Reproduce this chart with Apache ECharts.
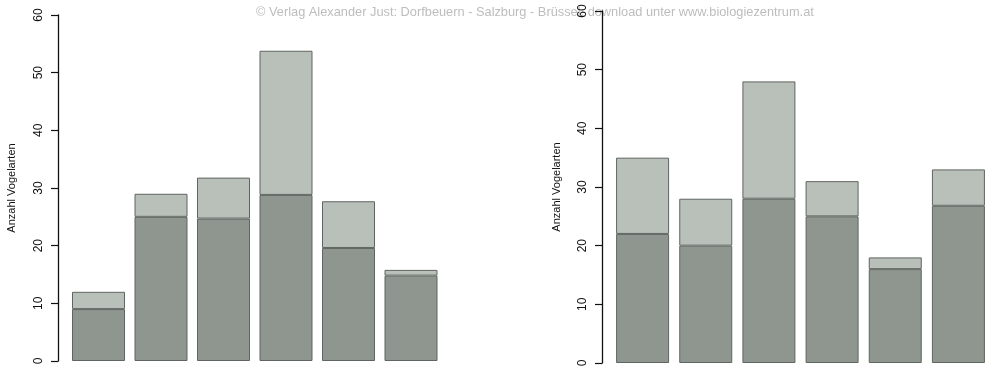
<!DOCTYPE html>
<html>
<head>
<meta charset="utf-8">
<script src="https://cdn.jsdelivr.net/npm/echarts@6/dist/echarts.min.js"></script>
<style>
  html, body { margin: 0; padding: 0; background: #fff; }
  #chart { width: 991px; height: 370px; }
</style>
</head>
<body>
<div id="chart"></div>
<script>
// Six sites per panel; lower segment = first group, full bar height = total species
const categories = ['1', '2', '3', '4', '5', '6'];
const leftLower = [9, 25, 24.7, 28.8, 19.6, 14.8];
const leftTotal = [12, 29, 31.8, 53.8, 27.7, 15.8];
const rightLower = [22, 20, 28, 25, 16, 26.8];
const rightTotal = [35, 28, 48, 31, 18, 33];
const yTicks = [0, 10, 20, 30, 40, 50, 60];

const axisTitle = 'Anzahl Vogelarten';
const creditText = '\u00a9 Verlag Alexander Just: Dorfbeuern - Salzburg - Br\u00fcssel; download unter www.biologiezentrum.at';

const darkFill = '#8f9690';
const lightFill = '#b9c0ba';
const edge = '#5f6560';

function upper(total, lower) {
  return total.map((t, i) => +(t - lower[i]).toFixed(2));
}

function yAxis(gridIndex, offset, gap) {
  return {
    type: 'value', gridIndex, min: yTicks[0], max: yTicks[yTicks.length - 1], interval: 10,
    offset,
    name: axisTitle, nameLocation: 'middle', nameGap: gap, nameRotate: 90,
    nameTextStyle: { fontFamily: 'Liberation Sans', fontSize: 11, color: '#111' },
    axisLine: { show: true, lineStyle: { color: '#111', width: 1.3 } },
    axisTick: { show: true, length: 7, lineStyle: { color: '#111', width: 1.2 } },
    axisLabel: { rotate: 90, margin: 13, fontFamily: 'Liberation Sans', fontSize: 12, color: '#111' },
    splitLine: { show: false }
  };
}

function xAxis(gridIndex) {
  return {
    type: 'category', gridIndex, data: categories,
    axisLine: { show: false }, axisTick: { show: false }, axisLabel: { show: false }
  };
}

function bars(idx, lower, total) {
  const common = {
    type: 'bar', xAxisIndex: idx, yAxisIndex: idx, stack: 's' + idx,
    barWidth: 53, silent: true
  };
  return [
    Object.assign({}, common, {
      data: lower,
      itemStyle: { color: darkFill, borderColor: edge, borderWidth: 1 }
    }),
    Object.assign({}, common, {
      data: upper(total, lower),
      itemStyle: { color: lightFill, borderColor: edge, borderWidth: 1 }
    })
  ];
}

const chart = echarts.init(document.getElementById('chart'), null, { renderer: 'canvas' });
chart.setOption({
  animation: false,
  backgroundColor: '#fff',
  graphic: [{
    type: 'text', left: 256, top: 6, z: 0,
    style: { text: creditText, fontFamily: 'Liberation Sans', fontSize: 12.8, fill: '#bdbdbd' }
  }],
  grid: [
    { left: 67.25, top: 15, width: 375, height: 346 },
    { left: 611, top: 11, width: 379, height: 352 }
  ],
  xAxis: [xAxis(0), xAxis(1)],
  yAxis: [yAxis(0, 9.25, 41), yAxis(1, 9, 40)],
  series: [].concat(bars(0, leftLower, leftTotal), bars(1, rightLower, rightTotal))
});
</script>
</body>
</html>
